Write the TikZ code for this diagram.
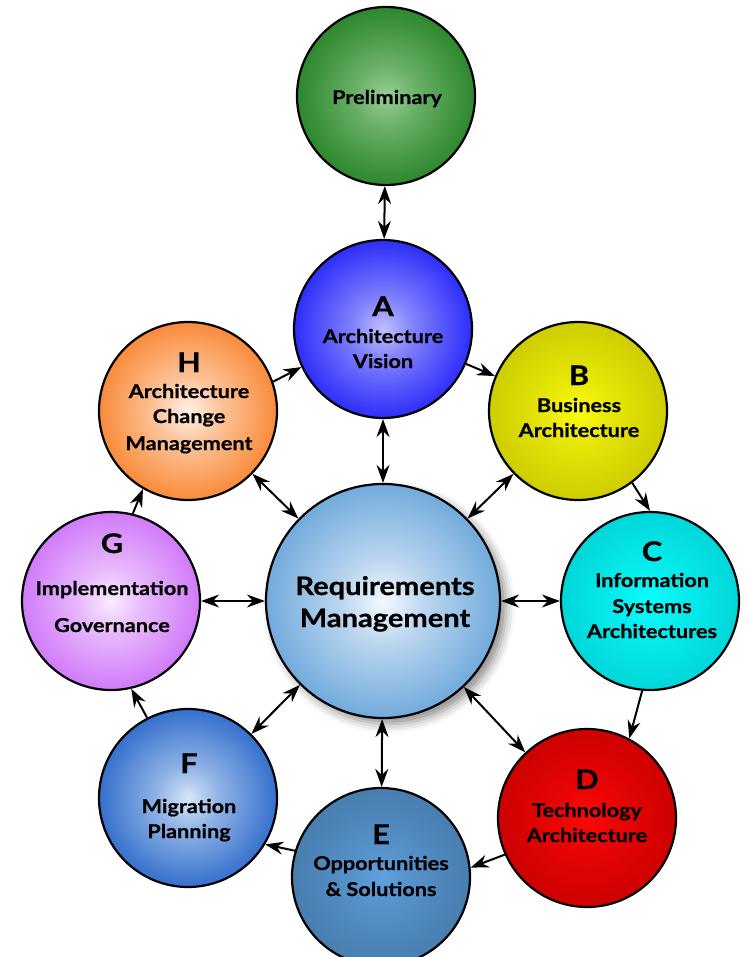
\documentclass[tikz,border=0pt]{standalone}
\usepackage{fontspec}
\setmainfont{Lato}
\newfontfamily\ballfont{Lato}[FakeStretch=1.14, FakeBold=0.8]
\usetikzlibrary{arrows.meta,shadows.blur}

% fill colours: light centre, darker rim
\definecolor{preIn}{RGB}{152,206,146}   \definecolor{preOut}{RGB}{34,128,36}
\definecolor{aIn}{RGB}{192,192,255}     \definecolor{aOut}{RGB}{30,30,250}
\definecolor{bIn}{RGB}{252,252,12}      \definecolor{bOut}{RGB}{200,200,0}
\definecolor{cIn}{RGB}{10,255,255}      \definecolor{cOut}{RGB}{0,210,214}
\definecolor{dIn}{RGB}{255,8,8}         \definecolor{dOut}{RGB}{200,0,0}
\definecolor{eIn}{RGB}{95,160,222}      \definecolor{eOut}{RGB}{70,122,170}
\definecolor{fIn}{RGB}{214,230,248}     \definecolor{fOut}{RGB}{36,100,200}
\definecolor{gIn}{RGB}{250,236,255}     \definecolor{gOut}{RGB}{204,110,248}
\definecolor{hIn}{RGB}{255,242,232}     \definecolor{hOut}{RGB}{248,128,40}
\definecolor{rmIn}{RGB}{244,249,254}    \definecolor{rmOut}{RGB}{100,162,216}

% one radial shading per ball
\newcommand\ballshade[3]{%
  \pgfdeclareradialshading{#1}{\pgfpoint{0bp}{0bp}}%
    {color(0bp)=(#2); color(9bp)=(#2!60!#3); color(28bp)=(#3);
     color(48bp)=(#3!88!black); color(50bp)=(#3!88!black)}}
\ballshade{shPre}{preIn}{preOut}
\ballshade{shA}{aIn}{aOut}
\ballshade{shB}{bIn}{bOut}
\ballshade{shC}{cIn}{cOut}
\ballshade{shD}{dIn}{dOut}
\ballshade{shE}{eIn}{eOut}
\ballshade{shF}{fIn}{fOut}
\ballshade{shG}{gIn}{gOut}
\ballshade{shH}{hIn}{hOut}
\ballshade{shRM}{rmIn}{rmOut}

\tikzset{
  ball/.style={circle, draw=black, line width=2.2pt, minimum size=178pt,
               inner sep=0pt, shading=#1},
  hub/.style={circle, draw=black, line width=2.2pt, minimum size=234pt,
               inner sep=0pt, shading=shRM,
               blur shadow={shadow xshift=6pt, shadow yshift=-6pt,
                            shadow blur radius=9pt, shadow opacity=45}},
  lettr/.style={anchor=base, inner sep=0pt, font=\ballfont\fontsize{27}{30}\selectfont\bfseries},
  wrd/.style={anchor=base, inner sep=0pt, font=\ballfont\fontsize{19}{22}\selectfont\bfseries},
  bigwrd/.style={anchor=base, inner sep=0pt, font=\ballfont\fontsize{25.5}{28}\selectfont\bfseries},
  link/.style={line width=2pt, -{Stealth[length=18pt, width=13pt, inset=6pt]}},
  twoway/.style={line width=2pt, {Stealth[length=18pt, width=13pt, inset=6pt]}-{Stealth[length=18pt, width=13pt, inset=6pt]}}
}

\begin{document}
\begin{tikzpicture}[x=1pt, y=-1pt]
\useasboundingbox (0,0) rectangle (746,957);

% balls
\node[hub] (RM) at (383,601) {};
\node[ball=shPre] (P) at (386,96) {};
\node[ball=shA] (A) at (383,329) {};
\node[ball=shB] (B) at (578,411) {};
\node[ball=shC] (C) at (650,601) {};
\node[ball=shD] (D) at (587,818) {};
\node[ball=shE] (E) at (381,877) {};
\node[ball=shF] (F) at (188,798) {};
\node[ball=shG] (G) at (111,601) {};
\node[ball=shH] (H) at (188,411) {};

% labels
\node[wrd] (P1) at (387,104) {Preliminary};

\node[lettr] (A0) at (383,316) {A};
\node[wrd] (A1) at (383,343) {Architecture};
\node[wrd] (A2) at (383,368) {Vision};

\node[lettr] (B0) at (579,385) {B};
\node[wrd] (B1) at (579,412) {Business};
\node[wrd] (B2) at (579,437) {Architecture};

\node[lettr] (C0) at (652,561) {C};
\node[wrd] (C1) at (652,587) {Information};
\node[wrd] (C2) at (652,613) {Systems};
\node[wrd] (C3) at (652,638) {Architectures};

\node[lettr] (D0) at (587,789) {D};
\node[wrd] (D1) at (587,817) {Technology};
\node[wrd] (D2) at (587,842) {Architecture};

\node[lettr] (E0) at (381,844) {E};
\node[wrd] (E1) at (381,870) {Opportunities};
\node[wrd] (E2) at (381,896) {\& Solutions};

\node[lettr] (F0) at (189,773) {F};
\node[wrd] (F1) at (189,813) {Migration};
\node[wrd] (F2) at (189,838) {Planning};

\node[lettr] (G0) at (112,553) {G};
\node[wrd] (G1) at (112,595) {Implementation};
\node[wrd] (G2) at (112,632) {Governance};

\node[lettr] (H0) at (189,372) {H};
\node[wrd] (H1) at (189,398) {Architecture};
\node[wrd] (H2) at (189,423) {Change};
\node[wrd] (H3) at (189,450) {Management};

\node[bigwrd] (RM1) at (385,595) {Requirements};
\node[bigwrd] (RM2) at (385,627) {Management};

% two-way links
\draw[twoway] (P) -- (A);
\draw[twoway] (RM) -- (A);
\draw[twoway] (RM) -- (B);
\draw[twoway] (RM) -- (C);
\draw[twoway] (RM) -- (D);
\draw[twoway] (RM) -- (E);
\draw[twoway] (RM) -- (F);
\draw[twoway] (RM) -- (G);
\draw[twoway] (RM) -- (H);

% the cycle A -> H
\draw[link] (A) -- (B);
\draw[link] (B.-53) -- (C.90);
\draw[link] (C.-95) -- (D.62);
\draw[link] (D.204) -- (E.6);
\draw[link] (E.163) -- (F.-31);
\draw[link] (F.117) -- (G.-77);
\draw[link] (G.76) -- (H.-120);
\draw[link] (H.19) -- (A.205);
\end{tikzpicture}
\end{document}
